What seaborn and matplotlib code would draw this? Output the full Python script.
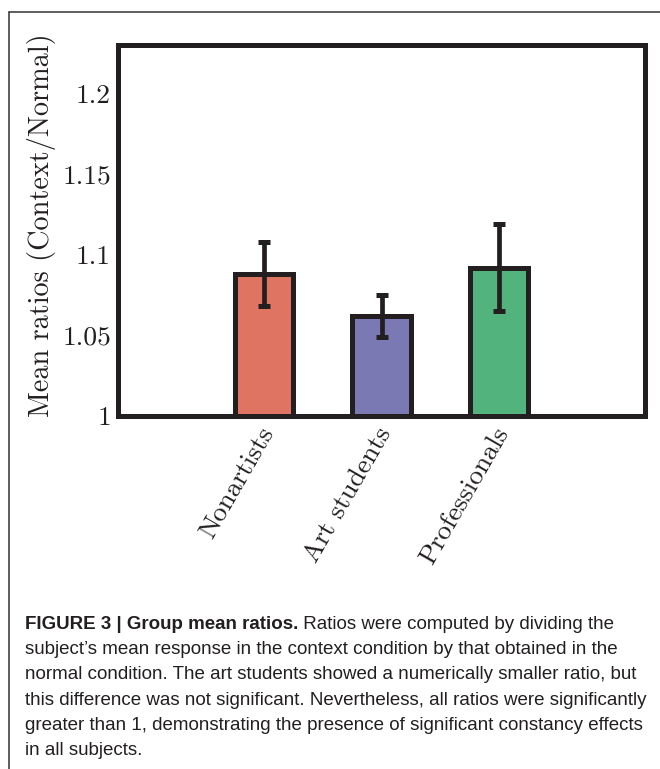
import matplotlib
matplotlib.use("Agg")
import matplotlib.pyplot as plt
import matplotlib.transforms as mtransforms
from matplotlib import font_manager
from matplotlib.lines import Line2D
import numpy as np
import pandas as pd
import seaborn as sns

# ---- data ----
categories = ["Nonartists", "Art students", "Professionals"]
mean_ratios = [1.088, 1.062, 1.092]
errors = [0.020, 0.013, 0.027]
bar_colors = ["#e07462", "#7a79b4", "#52b47c"]
ytick_values = [1.0, 1.05, 1.1, 1.15, 1.2]
ytick_labels = ["1", "1.05", "1.1", "1.15", "1.2"]
ylabel_text = "Mean ratios (Context/Normal)"
caption_bold = "FIGURE 3 | Group mean ratios."
caption_lines = [
    " Ratios were computed by dividing the",
    "subject\u2019s mean response in the context condition by that obtained in the",
    "normal condition. The art students showed a numerically smaller ratio, but",
    "this difference was not significant. Nevertheless, all ratios were significantly",
    "greater than 1, demonstrating the presence of significant constancy effects",
    "in all subjects.",
]

sns.set_theme(style="white")
plt.rcParams["font.family"] = ["cmr10", "DejaVu Serif"]
plt.rcParams["axes.formatter.use_mathtext"] = True

INK = "#231f20"
W, H = 660, 769
fig = plt.figure(figsize=(W / 100, H / 100), dpi=100)
fig.patch.set_facecolor("white")

ax = fig.add_axes([118 / W, 1 - 416 / H, (645 - 118) / W, (416 - 44.5) / H])

df = pd.DataFrame({"group": categories, "ratio": mean_ratios})
sns.barplot(data=df, x="group", y="ratio", hue="group", palette=bar_colors,
            order=categories, hue_order=categories, legend=False,
            width=0.5, edgecolor=INK, linewidth=3.6, saturation=1,
            errorbar=None, ax=ax)
# bars start at y=1 baseline
for patch in ax.patches:
    h = patch.get_height()
    patch.set_y(1.0)
    patch.set_height(h - 1.0)

xpos = np.arange(len(categories))
ax.errorbar(xpos, mean_ratios, yerr=errors, fmt="none", ecolor=INK,
            elinewidth=3.4, capsize=4.2, capthick=3.6, zorder=5)

ax.set_ylim(1.0, 1.2307)
ax.set_xlim(-1.243, 3.243)
ax.tick_params(axis="both", length=0)
ax.tick_params(axis="y", pad=5)
ax.tick_params(axis="x", pad=5)
ax.set_yticks(ytick_values)
ax.set_yticklabels(ytick_labels, fontsize=19.8, color=INK)
ax.set_xticks(xpos)
ax.set_xticklabels(categories, fontsize=19.8, color=INK, rotation=60,
                   ha="right", va="top")
offset = mtransforms.ScaledTranslation(15 / 100, 0, fig.dpi_scale_trans)
for lab in ax.get_xticklabels():
    lab.set_transform(lab.get_transform() + offset)
ax.set_xlabel("")
ax.set_ylabel(ylabel_text, fontsize=20.3, color=INK)
ax.yaxis.set_label_coords((56 - 118) / (645 - 118), (416 - 225) / (416 - 44.5))
for sp in ax.spines.values():
    sp.set_visible(True)
    sp.set_linewidth(3.6)
    sp.set_color(INK)
    sp.set_capstyle("projecting")
ax.grid(False)

# outer border (top and left lines)
fig.add_artist(Line2D([9 / W, 9 / W], [0, 1 - 12 / H], transform=fig.transFigure,
                      color="#333333", lw=1.1))
fig.add_artist(Line2D([9 / W, 1], [1 - 12 / H, 1 - 12 / H], transform=fig.transFigure,
                      color="#333333", lw=1.1))

# caption
names = {f.name for f in font_manager.fontManager.ttflist}
cap_family = ["Liberation Sans Narrow", "Liberation Sans", "DejaVu Sans"]
cap_family = [f for f in cap_family if f in names] or ["DejaVu Sans"]

renderer = fig.canvas.get_renderer()
probe = fig.text(0, 0, caption_lines[4], fontsize=10, family=cap_family)
w10 = probe.get_window_extent(renderer).width
probe.remove()
cap_size = 10 * (647 - 25) / w10

x0 = 25
baselines = [629 + 25.2 * i for i in range(6)]
tb = fig.text(x0 / W, 1 - baselines[0] / H, caption_bold, fontsize=cap_size,
              family=cap_family, fontweight="bold", color=INK, va="baseline", ha="left")
bw = tb.get_window_extent(renderer).width
fig.text((x0 + bw) / W, 1 - baselines[0] / H, caption_lines[0], fontsize=cap_size,
         family=cap_family, color=INK, va="baseline", ha="left")
for i in range(1, 6):
    fig.text(x0 / W, 1 - baselines[i] / H, caption_lines[i], fontsize=cap_size,
             family=cap_family, color=INK, va="baseline", ha="left")

fig.savefig("out.png", dpi=100, facecolor="white")
